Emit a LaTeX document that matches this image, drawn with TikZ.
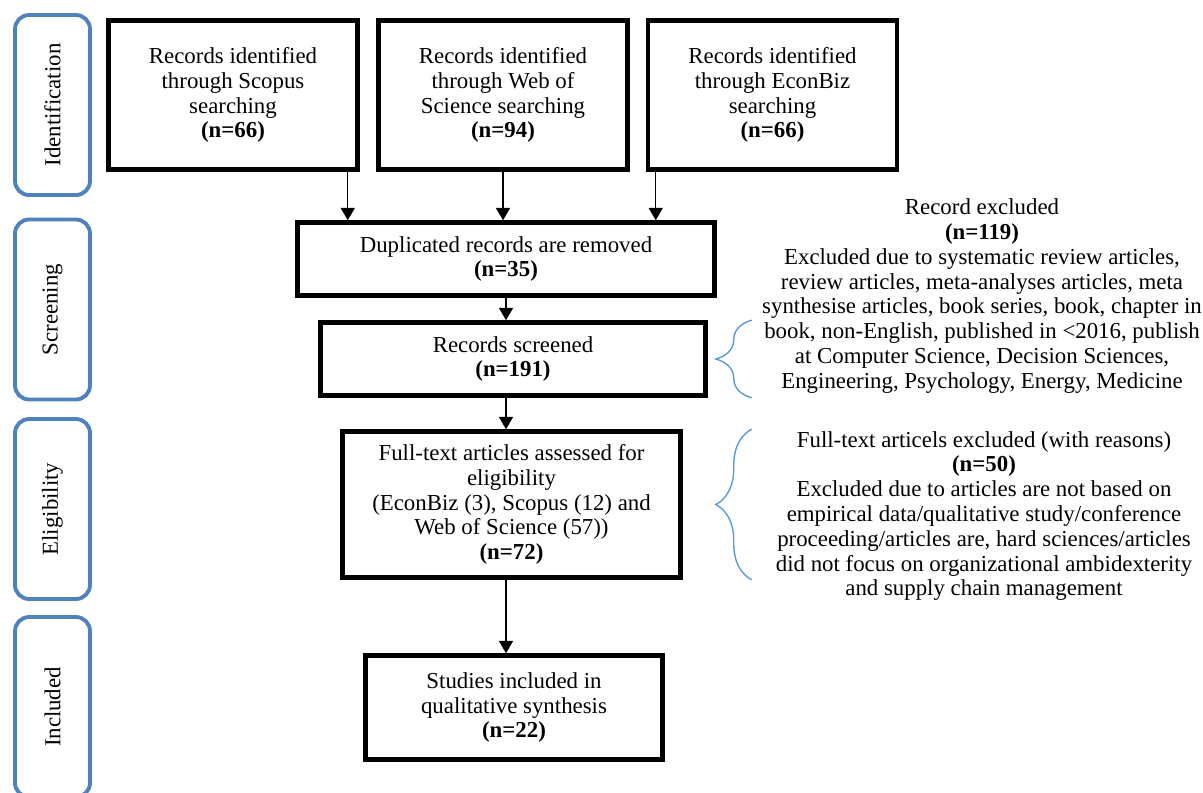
\documentclass[tikz,border=0pt]{standalone}
\usepackage{fontspec}
\setmainfont{Liberation Serif}
\usepackage{graphicx}
\usetikzlibrary{arrows.meta,decorations.pathreplacing}
\definecolor{phaseblue}{RGB}{79,129,189}
\definecolor{bracecol}{RGB}{91,155,213}

\begin{document}
\begin{tikzpicture}[x=0.02cm,y=-0.02cm,
    font=\fontsize{13}{14.1}\selectfont,
    box/.style={draw,line width=2.6pt,align=center,inner sep=2pt},
    phase/.style={draw=phaseblue,line width=2.2pt,rounded corners=8pt,minimum width=1.5cm,minimum height=3.6cm},
    note/.style={align=center,inner sep=0pt},
    flow/.style={-{Triangle[width=8pt,length=7pt]},line width=0.7pt},
    curly/.style={draw=bracecol,line width=0.8pt,decorate,decoration={brace,amplitude=0.72cm}}]
    \useasboundingbox (0,0) rectangle (1203,792);
    % phases
    \node[phase] (ident) at (52.5,105)   {\rotatebox{90}{Identification}};
    \node[phase] (scr)   at (52.5,309.5) {\rotatebox{90}{Screening}};
    \node[phase] (elig)  at (52.5,509)   {\rotatebox{90}{Eligibility}};
    \node[phase] (incl)  at (52.5,707)   {\rotatebox{90}{Included}};
    % flow boxes
    \node[box,minimum width=4.98cm,minimum height=2.98cm] (scopus)  at (233,95)
      {Records identified\\through Scopus\\searching\\\textbf{(n=66)}};
    \node[box,minimum width=4.98cm,minimum height=2.98cm] (wos)     at (503,95)
      {Records identified\\through Web of\\Science searching\\\textbf{(n=94)}};
    \node[box,minimum width=4.98cm,minimum height=2.98cm] (econbiz) at (772.5,95)
      {Records identified\\through EconBiz\\searching\\\textbf{(n=66)}};
    \node[box,minimum width=8.34cm,minimum height=1.46cm] (dup)      at (506,259)
      {Duplicated records are removed\\\textbf{(n=35)}};
    \node[box,minimum width=7.7cm,minimum height=1.46cm]  (screened) at (513,359)
      {Records screened\\\textbf{(n=191)}};
    \node[box,minimum width=6.76cm,minimum height=2.92cm] (fulltext) at (511.5,504.5)
      {Full-text articles assessed for\\eligibility\\(EconBiz (3), Scopus (12) and\\Web of Science (57))\\\textbf{(n=72)}};
    \node[box,minimum width=5.94cm,minimum height=2.08cm] (studies)  at (514,707.5)
      {Studies included in\\qualitative synthesis\\\textbf{(n=22)}};
    % exclusions
    \node[note] (excl1) at (982,296)
      {Record excluded\\\textbf{(n=119)}\\Excluded due to systematic review articles,\\review articles, meta-analyses articles, meta\\synthesise articles, book series, book, chapter in\\book, non-English, published in <2016, publish\\at Computer Science, Decision Sciences,\\Engineering, Psychology, Energy, Medicine};
    \node[note] (excl2) at (984,516)
      {Full-text articels excluded (with reasons)\\\textbf{(n=50)}\\Excluded due to articles are not based on\\empirical data/qualitative study/conference\\proceeding/articles are, hard sciences/articles\\did not focus on organizational ambidexterity\\and supply chain management};
    \path[flow]
      ([xshift=-0.24cm]scopus.south east) edge ([xshift=-0.24cm]scopus.south east |- dup.north)
      (wos.south) edge (wos.south |- dup.north)
      ([xshift=0.2cm]econbiz.south west) edge ([xshift=0.2cm]econbiz.south west |- dup.north)
      (dup.south) edge (dup.south |- screened.north)
      (dup.south |- screened.south) edge (dup.south |- fulltext.north)
      (dup.south |- fulltext.south) edge (dup.south |- studies.north);
    \path[curly] ([xshift=0.88cm]screened.south east) -- ([xshift=0.88cm]screened.north east);
    \path[curly] ([xshift=1.38cm]fulltext.south east) -- ([xshift=1.38cm]fulltext.north east);
\end{tikzpicture}
\end{document}
